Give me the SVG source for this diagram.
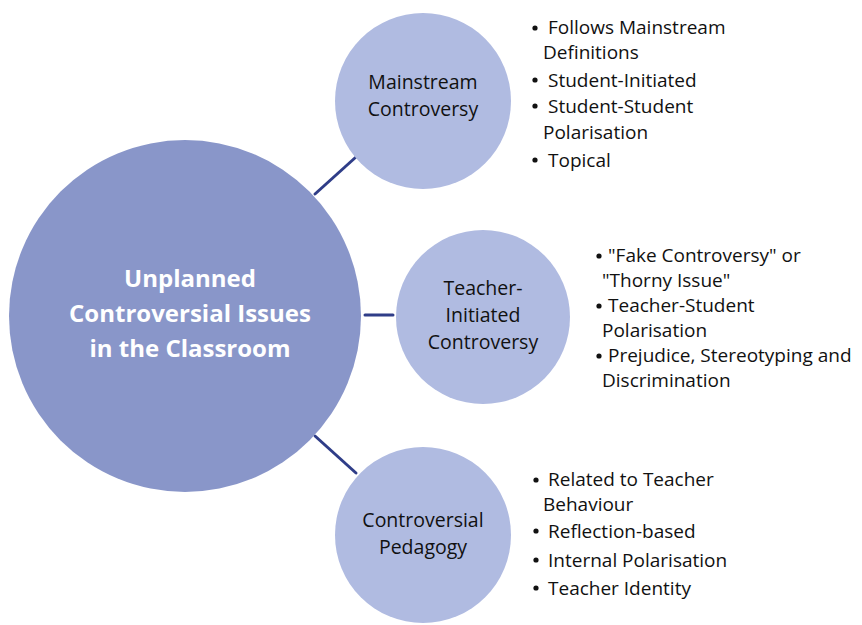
<svg xmlns="http://www.w3.org/2000/svg" width="862" height="625" viewBox="0 0 862 625">
<style>
.bg{fill:#ffffff}
.big{fill:#8996c9}
.small{fill:#b0bbe1}
.conn line{stroke:#2f3d88;stroke-width:3;stroke-linecap:round}
.t{font-family:"Open Sans","Liberation Sans",sans-serif;fill:#111111}
.main{font-family:"Open Sans","Liberation Sans",sans-serif;fill:#ffffff;font-weight:bold;font-size:24px;text-anchor:middle}
.node{font-size:19.5px;text-anchor:middle}
.bul{font-size:19px}
.dot{fill:#111111}
</style>
<rect class="bg" x="0" y="0" width="862" height="625"/>
<g id="connectors" class="conn">
<line x1="315" y1="194" x2="356" y2="157"/>
<line x1="365" y1="315" x2="393" y2="315"/>
<line x1="315" y1="436" x2="356" y2="473"/>
</g>
<g id="center">
<circle class="big" cx="185" cy="316" r="176"/>
<text class="main" x="190" y="287">Unplanned</text>
<text class="main" x="190" y="322">Controversial Issues</text>
<text class="main" x="190" y="357">in the Classroom</text>
</g>
<g id="mainstream">
<circle class="small" cx="423" cy="101" r="88"/>
<text class="t node" x="423" y="89">Mainstream</text>
<text class="t node" x="423" y="116">Controversy</text>
</g>
<g id="teacher">
<circle class="small" cx="483" cy="317" r="87"/>
<text class="t node" x="483" y="295">Teacher-</text>
<text class="t node" x="483" y="322">Initiated</text>
<text class="t node" x="483" y="349">Controversy</text>
</g>
<g id="pedagogy">
<circle class="small" cx="423" cy="535" r="88"/>
<text class="t node" x="423" y="527">Controversial</text>
<text class="t node" x="423" y="554">Pedagogy</text>
</g>
<g id="mainstream-list" class="t bul">
<circle class="dot" cx="535" cy="28" r="2.6"/>
<text x="548" y="34">Follows Mainstream</text>
<text x="543" y="59">Definitions</text>
<circle class="dot" cx="535" cy="80" r="2.6"/>
<text x="548" y="87">Student-Initiated</text>
<circle class="dot" cx="535" cy="106" r="2.6"/>
<text x="548" y="113">Student-Student</text>
<text x="543" y="139">Polarisation</text>
<circle class="dot" cx="535" cy="160" r="2.6"/>
<text x="548" y="167">Topical</text>
</g>
<g id="teacher-list" class="t bul">
<circle class="dot" cx="599" cy="256" r="2.6"/>
<text x="608" y="262">"Fake Controversy" or</text>
<text x="602" y="287">"Thorny Issue"</text>
<circle class="dot" cx="599" cy="306" r="2.6"/>
<text x="608" y="312">Teacher-Student</text>
<text x="602" y="337">Polarisation</text>
<circle class="dot" cx="599" cy="356" r="2.6"/>
<text x="608" y="362">Prejudice, Stereotyping and</text>
<text x="602" y="387">Discrimination</text>
</g>
<g id="pedagogy-list" class="t bul">
<circle class="dot" cx="536" cy="480" r="2.6"/>
<text x="548" y="486">Related to Teacher</text>
<text x="543" y="511">Behaviour</text>
<circle class="dot" cx="536" cy="531" r="2.6"/>
<text x="548" y="538">Reflection-based</text>
<circle class="dot" cx="536" cy="560" r="2.6"/>
<text x="548" y="567">Internal Polarisation</text>
<circle class="dot" cx="536" cy="588" r="2.6"/>
<text x="548" y="595">Teacher Identity</text>
</g>
</svg>
